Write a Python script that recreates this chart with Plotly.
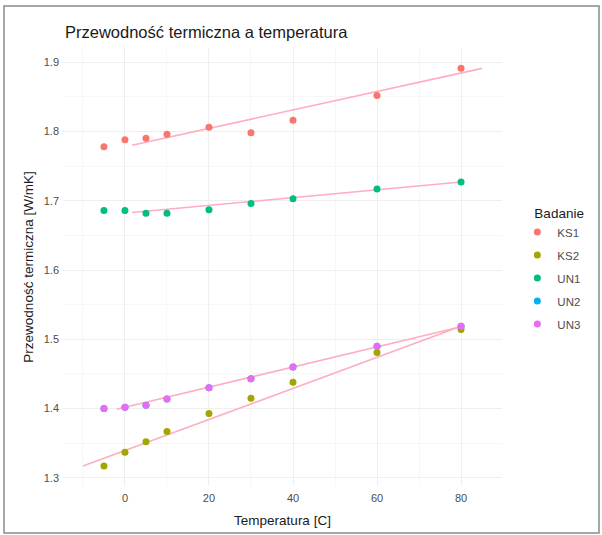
import plotly.graph_objects as go

# ---- data ----
temperatures = [-5, 0, 5, 10, 20, 30, 40, 60, 80]
series_names = ["KS1", "KS2", "UN1", "UN2", "UN3"]
ks1 = [1.778, 1.788, 1.790, 1.796, 1.806, 1.798, 1.816, 1.852, 1.891]
ks2 = [1.317, 1.337, 1.352, 1.367, 1.393, 1.415, 1.438, 1.481, 1.514]
un1 = [1.686, 1.686, 1.682, 1.682, 1.687, 1.696, 1.703, 1.717, 1.727]
# UN2 is completely hidden under UN3 in the reference (same readings)
un2 = [1.400, 1.402, 1.405, 1.414, 1.430, 1.443, 1.460, 1.490, 1.519]
un3 = [1.400, 1.402, 1.405, 1.414, 1.430, 1.443, 1.460, 1.490, 1.519]
values = {"KS1": ks1, "KS2": ks2, "UN1": un1, "UN2": un2, "UN3": un3}
colors = {"KS1": "#F8766D", "KS2": "#A3A500", "UN1": "#00BF7D",
          "UN2": "#00B0F6", "UN3": "#E76BF3"}

# fitted trend lines (start / end)
fit_names = ["KS1", "UN1", "UN3", "KS2"]
fit_x_start = [1.7, 1.7, -2.0, -10.0]
fit_x_end = [85.0, 80.0, 80.0, 80.0]
fit_y_start = [1.780, 1.683, 1.399, 1.317]
fit_y_end = [1.891, 1.727, 1.518, 1.519]

x_ticks = [0, 20, 40, 60, 80]
y_ticks = [1.3, 1.4, 1.5, 1.6, 1.7, 1.8, 1.9]

FONT = "Liberation Sans, Arial, sans-serif"

fig = go.Figure()

for i, name in enumerate(fit_names):
    fig.add_trace(go.Scatter(
        x=[fit_x_start[i], fit_x_end[i]], y=[fit_y_start[i], fit_y_end[i]],
        mode="lines", line=dict(color="#FFADC0", width=1.6),
        showlegend=False, hoverinfo="skip"))

for name in series_names:
    ys = values[name]
    fig.add_trace(go.Scatter(
        x=temperatures[:len(ys)], y=ys, mode="markers", name=name,
        legendgroup=name,
        marker=dict(color=colors[name], size=7, symbol="circle")))

fig.update_layout(
    width=602, height=535,
    margin=dict(l=63, r=100, t=48, b=49, autoexpand=False),
    paper_bgcolor="white", plot_bgcolor="white",
    font=dict(family=FONT, color="#222222"),
    title=dict(text="Przewodność termiczna a temperatura",
               x=65 / 602, xref="container", xanchor="left",
               y=1 - 32 / 535, yref="container", yanchor="middle",
               font=dict(size=16.5, color="#1A1A1A", family=FONT)),
    legend=dict(title=dict(text="\u00a0\u00a0\u00a0\u00a0Badanie",
                           font=dict(size=13.5, color="#1A1A1A")),
                font=dict(size=11.5, color="#4D4D4D"),
                x=1.035, xanchor="left", y=0.653, yanchor="top",
                tracegroupgap=4,
                bgcolor="rgba(0,0,0,0)"),
    xaxis=dict(range=[-14.75, 89.75], tickvals=x_ticks, showline=False,
               zeroline=False, showgrid=True, gridcolor="#EFEFEF", gridwidth=1,
               minor=dict(dtick=10, showgrid=True, gridcolor="#F7F7F7"),
               tickfont=dict(size=11, color="#4D4D4D"), ticks="",
               ticklabelstandoff=4, automargin=False,
               title=dict(text="Temperatura [C]", standoff=12,
                          font=dict(size=13.5, color="#1A1A1A"))),
    yaxis=dict(range=[1.2883, 1.9204], tickvals=y_ticks, showline=False,
               zeroline=False, showgrid=True, gridcolor="#EFEFEF", gridwidth=1,
               minor=dict(dtick=0.05, showgrid=True, gridcolor="#F7F7F7"),
               tickfont=dict(size=11, color="#4D4D4D"), ticks="",
               tickformat=".1f", ticklabelstandoff=3, automargin=False,
               title=dict(text="Przewodność termiczna [W/mK]", standoff=6,
                          font=dict(size=13.5, color="#1A1A1A"))),
    shapes=[dict(type="rect", xref="paper", yref="paper",
                 x0=(4 - 63) / 439, x1=(599 - 63) / 439,
                 y0=(486 - 533) / 438, y1=(486 - 6) / 438,
                 line=dict(color="#8A8A8A", width=1.5),
                 fillcolor="rgba(0,0,0,0)", layer="above")],
)

fig.write_html("out.html",
               config={"displayModeBar": False},
               post_script="document.body.style.margin='0';"
                           "document.body.style.overflow='hidden';")
